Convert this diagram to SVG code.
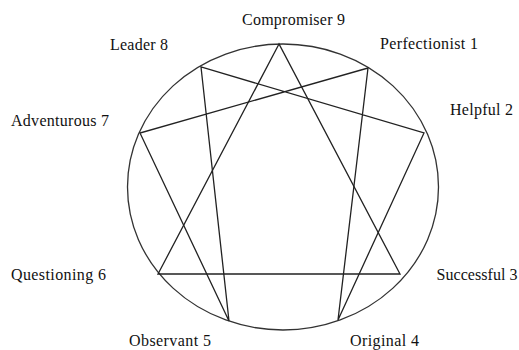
<svg xmlns="http://www.w3.org/2000/svg" width="519" height="350" viewBox="0 0 519 350">
<style>
.lbl{font-family:"Liberation Serif","Times New Roman",serif;font-size:16px;fill:#111;}
.ln{stroke:#222;stroke-width:1.3;fill:none;stroke-linecap:round;}
</style>
<rect width="519" height="350" fill="#fff"/>
<ellipse cx="283" cy="187" rx="155.5" ry="143" fill="none" stroke="#333" stroke-width="1.3"/>
<g id="connectors">
<path class="ln" d="M279,44 L158,274 L400,274 Z"/>
<path class="ln" d="M368,68 L338,320 L424,133 L201,67 L229,321 L140,133 Z"/>
</g>
<g id="n9"><text class="lbl" x="242" y="25" textLength="103" lengthAdjust="spacing">Compromiser 9</text></g>
<g id="n8"><text class="lbl" x="110" y="50" textLength="58" lengthAdjust="spacing">Leader 8</text></g>
<g id="n1"><text class="lbl" x="380" y="49" textLength="98" lengthAdjust="spacing">Perfectionist 1</text></g>
<g id="n7"><text class="lbl" x="11" y="125.5" textLength="98" lengthAdjust="spacing">Adventurous 7</text></g>
<g id="n2"><text class="lbl" x="450" y="114.5" textLength="63" lengthAdjust="spacing">Helpful 2</text></g>
<g id="n6"><text class="lbl" x="11" y="280" textLength="95" lengthAdjust="spacing">Questioning 6</text></g>
<g id="n3"><text class="lbl" x="436.5" y="280" textLength="81" lengthAdjust="spacing">Successful 3</text></g>
<g id="n5"><text class="lbl" x="129" y="346" textLength="82" lengthAdjust="spacing">Observant 5</text></g>
<g id="n4"><text class="lbl" x="350" y="346" textLength="69" lengthAdjust="spacing">Original 4</text></g>
</svg>
